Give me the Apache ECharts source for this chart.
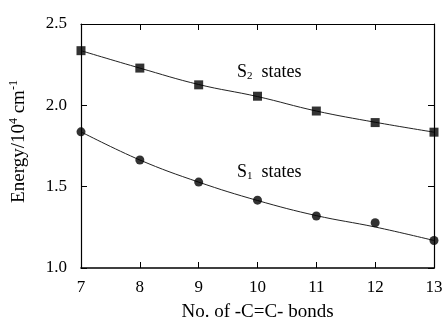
<!DOCTYPE html>
<html>
<head>
<meta charset="utf-8">
<title>Energy vs bonds</title>
<script src="https://cdn.jsdelivr.net/npm/echarts@6/dist/echarts.min.js"></script>
<style>
html, body { margin: 0; padding: 0; background: #fff; }
#chart { width: 446px; height: 327px; }
</style>
</head>
<body>
<div id="chart"></div>
<script>
// data
var bonds = [7, 8, 9, 10, 11, 12, 13];
var s2Points = [2.336, 2.229, 2.126, 2.056, 1.965, 1.894, 1.835];
var s1Points = [1.837, 1.664, 1.528, 1.417, 1.320, 1.278, 1.169];
// fitted curves drawn through the points
var s2Fit = [2.336, 2.229, 2.128, 2.054, 1.965, 1.896, 1.835];
var s1Fit = [1.837, 1.664, 1.528, 1.415, 1.322, 1.252, 1.169];
var yTicks = [1.0, 1.5, 2.0, 2.5];

function pairs(xs, ys) {
  var out = [];
  for (var i = 0; i < xs.length; i++) out.push([xs[i], ys[i]]);
  return out;
}

var font = 'Liberation Serif';
var ink = '#000';

var chart = echarts.init(document.getElementById('chart'));
var option = {
  backgroundColor: '#fff',
  animation: false,
  grid: { left: 81, right: 12, top: 24, bottom: 55 },
  xAxis: [{
    type: 'value', min: 7, max: 13, interval: 1,
    position: 'bottom',
    axisLine: { lineStyle: { color: ink, width: 1.6 } },
    axisTick: { inside: true, length: 6, lineStyle: { color: ink } },
    axisLabel: { color: ink, fontFamily: font, fontSize: 17, margin: 11 },
    splitLine: { show: false },
    name: 'No. of -C=C- bonds', nameLocation: 'middle', nameGap: 35,
    nameTextStyle: { color: ink, fontFamily: font, fontSize: 19 }
  }, {
    type: 'value', min: 7, max: 13, interval: 1,
    position: 'top',
    axisLine: { show: true, lineStyle: { color: ink, width: 1.2 } },
    axisTick: { inside: true, length: 6, lineStyle: { color: ink } },
    axisLabel: { show: false },
    splitLine: { show: false }
  }],
  yAxis: [{
    type: 'value', min: 1.0, max: 2.5, interval: 0.5,
    position: 'left',
    axisLine: { show: true, lineStyle: { color: ink, width: 1.2 } },
    axisTick: { inside: true, length: 6, lineStyle: { color: ink } },
    axisLabel: {
      color: ink, fontFamily: font, fontSize: 17, margin: 14,
      formatter: function (v) { return yTicks.indexOf(v) >= 0 ? v.toFixed(1) : ''; }
    },
    splitLine: { show: false },
    name: '{t|Energy/10}{sup|4}{t| cm}{sup|-1}',
    nameLocation: 'middle', nameGap: 51, nameRotate: 90,
    nameTextStyle: {
      color: ink, fontFamily: font, fontSize: 19, padding: [0, 0, 0, 9],
      rich: {
        t: { fontFamily: font, fontSize: 19, color: ink },
        sup: { fontFamily: font, fontSize: 12, color: ink, verticalAlign: 'top', padding: [0, 0, 10, 0] }
      }
    }
  }, {
    type: 'value', min: 1.0, max: 2.5, interval: 0.5,
    position: 'right',
    axisLine: { show: true, lineStyle: { color: ink, width: 1.2 } },
    axisTick: { inside: true, length: 6, lineStyle: { color: ink } },
    axisLabel: { show: false },
    splitLine: { show: false }
  }],
  series: [
    { name: 'S2 fit', type: 'line', smooth: 0.4, showSymbol: false, data: pairs(bonds, s2Fit),
      lineStyle: { color: '#222', width: 1 }, z: 2 },
    { name: 'S1 fit', type: 'line', smooth: 0.4, showSymbol: false, data: pairs(bonds, s1Fit),
      lineStyle: { color: '#222', width: 1 }, z: 2 },
    { name: 'S2', type: 'scatter', symbol: 'rect', symbolSize: 9, data: pairs(bonds, s2Points),
      itemStyle: { color: '#000' }, z: 3 },
    { name: 'S1', type: 'scatter', symbol: 'circle', symbolSize: 9, data: pairs(bonds, s1Points),
      itemStyle: { color: '#000' }, z: 3 }
  ],
  graphic: [{
    type: 'text', left: 237, top: 63,
    style: {
      text: '{s|S}{sub|2}{s|  states}',
      rich: {
        s: { fontFamily: font, fontSize: 18, fill: ink },
        sub: { fontFamily: font, fontSize: 11, fill: ink, verticalAlign: 'bottom', padding: [9, 0, 0, 0] }
      }
    }
  }, {
    type: 'text', left: 237, top: 163,
    style: {
      text: '{s|S}{sub|1}{s|  states}',
      rich: {
        s: { fontFamily: font, fontSize: 18, fill: ink },
        sub: { fontFamily: font, fontSize: 11, fill: ink, verticalAlign: 'bottom', padding: [9, 0, 0, 0] }
      }
    }
  }]
};
chart.setOption(option);
</script>
</body>
</html>
